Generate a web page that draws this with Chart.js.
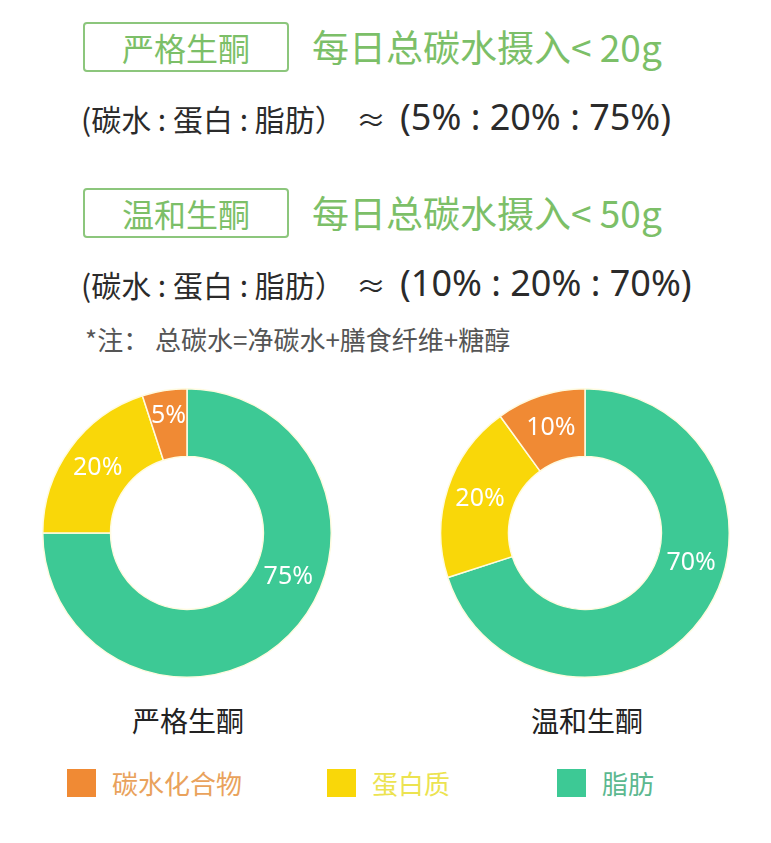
<!DOCTYPE html>
<html lang="zh">
<head>
<meta charset="utf-8">
<title>生酮饮食 碳水比例</title>
<script src="https://cdn.jsdelivr.net/npm/chart.js@4"></script>
<style>
  html, body { margin: 0; padding: 0; background: #fff; }
  body { width: 771px; height: 843px; position: relative; overflow: hidden;
         font-family: "Noto Sans CJK SC", "Noto Sans", sans-serif; }
  .abs { position: absolute; white-space: nowrap; }
  .tag { box-sizing: border-box; width: 206px; height: 50px; border: 2px solid #8cc67c;
         border-radius: 4px; color: #7cbf68; font-size: 32px; line-height: 46px; text-align: center; }
  .limit { color: #7cbf68; font-size: 37px; line-height: 50px; }
  .ratio { color: #2b2b2b; font-size: 30px; line-height: 44px; }
  .ratioNum { color: #2b2b2b; font-size: 36px; line-height: 50px; font-family: "Noto Sans", sans-serif; }
  .note { color: #555; font-size: 26px; line-height: 34px; }
  .chartBox { position: absolute; width: 290px; height: 290px; }
  .chartTitle { color: #222; font-size: 28px; line-height: 36px; transform: translateX(-50%); }
  .legendBox { width: 29px; height: 28px; }
  .legendText { font-size: 26px; line-height: 36px; }
</style>
</head>
<body>
<div id="page"></div>
<div class="chartBox" style="left:42px; top:388px;"><canvas id="strictChart" width="290" height="290"></canvas></div>
<div class="chartBox" style="left:440px; top:388px;"><canvas id="mildChart" width="290" height="290"></canvas></div>

<script>
// Datos
const categories = ["碳水化合物", "蛋白质", "脂肪"];
const ratioNames = ["碳水", "蛋白", "脂肪"];
const strictValues = [5, 20, 75];
const mildValues = [10, 20, 70];
const chartTitles = ["严格生酮", "温和生酮"];
const carbLimits = [20, 50];

const sliceColors = ["#f08a34", "#f9d709", "#3dc995"];
const legendTextColors = ["#e9a25c", "#ece350", "#5bb88f"];

// Texto de cabecera (dos bloques)
function buildHeader() {
  const page = document.getElementById("page");
  const blocks = [
    { top: 0, values: strictValues },
    { top: 166, values: mildValues }
  ];
  let html = "";
  blocks.forEach((b, i) => {
    html += `<div class="abs tag" style="left:83px; top:${22 + b.top}px;">${chartTitles[i]}</div>`;
    html += `<div class="abs limit" style="left:312px; top:${21 + b.top}px;">每日总碳水摄入&lt; ${carbLimits[i]}g</div>`;
    html += `<div class="abs ratio" style="left:81px; top:${96 + b.top}px;">(${ratioNames.join(" : ")}）</div>`;
    html += `<div class="abs ratio" style="left:356px; top:${96 + b.top}px;">≈</div>`;
    html += `<div class="abs ratioNum" style="left:400px; top:${92 + b.top}px;">(${b.values.map(v => v + "%").join(" : ")})</div>`;
  });
  html += `<div class="abs note" style="left:85px; top:322px;">*注： 总碳水=净碳水+膳食纤维+糖醇</div>`;

  // títulos debajo de las gráficas
  html += `<div class="abs chartTitle" style="left:188px; top:702px;">${chartTitles[0]}</div>`;
  html += `<div class="abs chartTitle" style="left:587px; top:702px;">${chartTitles[1]}</div>`;

  // leyenda
  const legendX = [67, 327, 557];
  categories.forEach((c, i) => {
    html += `<div class="abs legendBox" style="left:${legendX[i]}px; top:769px; background:${sliceColors[i]};"></div>`;
    html += `<div class="abs legendText" style="left:${legendX[i] + 45}px; top:765px; color:${legendTextColors[i]};">${c}</div>`;
  });
  page.innerHTML = html;
}

// Etiquetas de porcentaje dentro de cada sector
const sliceLabels = {
  id: "sliceLabels",
  afterDatasetsDraw(chart) {
    const ctx = chart.ctx;
    const meta = chart.getDatasetMeta(0);
    const data = chart.data.datasets[0].data;
    ctx.save();
    ctx.font = '25px "Noto Sans", sans-serif';
    ctx.fillStyle = "#ffffff";
    ctx.textAlign = "center";
    ctx.textBaseline = "middle";
    meta.data.forEach((arc, i) => {
      const p = arc.getProps(["x", "y", "startAngle", "endAngle", "innerRadius", "outerRadius"], true);
      const span = p.endAngle - p.startAngle;
      const a = p.startAngle + span * (span > Math.PI ? 0.42 : 0.5);
      const r = (p.innerRadius + p.outerRadius) / 2 + (span < 0.5 ? 8 : 0);
      ctx.fillText(data[i] + "%", p.x + Math.cos(a) * r, p.y + Math.sin(a) * r);
    });
    ctx.restore();
  }
};

// Dona: el orden horario desde arriba es grasa, proteína, carbohidratos
function drawDonut(canvasId, values) {
  const ctx = document.getElementById(canvasId).getContext("2d");
  new Chart(ctx, {
    type: "doughnut",
    data: {
      labels: categories.slice().reverse(),
      datasets: [{
        data: values.slice().reverse(),
        backgroundColor: sliceColors.slice().reverse(),
        borderColor: "#fffbe0",
        borderWidth: 1.5
      }]
    },
    options: {
      responsive: false,
      animation: false,
      cutout: "53%",
      layout: { padding: 0 },
      plugins: {
        legend: { display: false },
        tooltip: { enabled: false }
      }
    },
    plugins: [sliceLabels]
  });
}

document.addEventListener("DOMContentLoaded", () => {
  buildHeader();
  drawDonut("strictChart", strictValues);
  drawDonut("mildChart", mildValues);
});
</script>
</body>
</html>
